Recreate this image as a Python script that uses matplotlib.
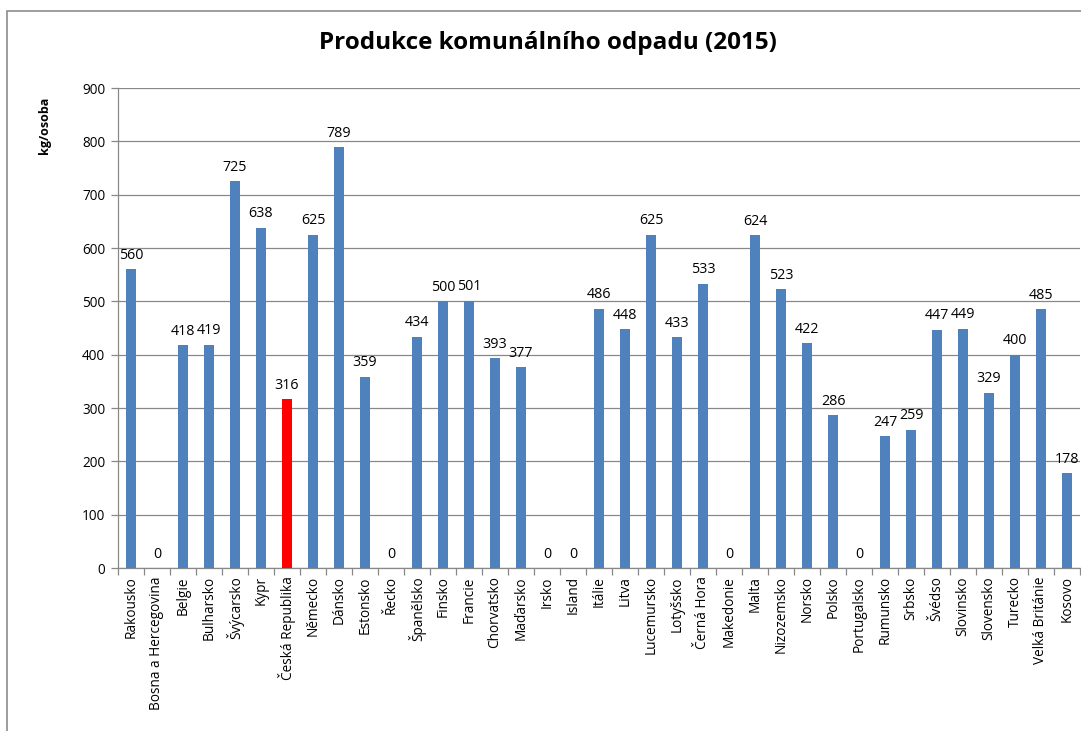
import matplotlib
matplotlib.use("Agg")
import matplotlib.pyplot as plt
from matplotlib.patches import Rectangle
from matplotlib.ticker import FixedLocator, NullFormatter

countries = [
    "Rakousko", "Bosna a Hercegovina", "Belgie", "Bulharsko", "Švýcarsko", "Kypr",
    "Česká Republika", "Německo", "Dánsko", "Estonsko", "Řecko", "Španělsko",
    "Finsko", "Francie", "Chorvatsko", "Maďarsko", "Irsko", "Island", "Itálie",
    "Litva", "Lucemursko", "Lotyšsko", "Černá Hora", "Makedonie", "Malta",
    "Nizozemsko", "Norsko", "Polsko", "Portugalsko", "Rumunsko", "Srbsko",
    "Švédso", "Slovinsko", "Slovensko", "Turecko", "Velká Británie", "Kosovo",
]
waste_kg = [
    560, 0, 418, 419, 725, 638, 316, 625, 789, 359, 0, 434, 500, 501, 393, 377,
    0, 0, 486, 448, 625, 433, 533, 0, 624, 523, 422, 286, 0, 247, 259, 447, 449,
    329, 400, 485, 178,
]
highlight = "Česká Republika"
y_ticks = [0, 100, 200, 300, 400, 500, 600, 700, 800, 900]

plt.rcParams["font.family"] = ["Open Sans", "DejaVu Sans"]

W, H = 1081, 731
fig = plt.figure(figsize=(W / 100, H / 100), dpi=100)

# chart-area frame
fig.patches.append(Rectangle((7 / W, -0.01), 1.1, 1 - 11 / H + 0.01,
                             transform=fig.transFigure, fill=False,
                             edgecolor="#8c8c8c", linewidth=1.2))

ax = fig.add_axes([118 / W, 1 - 568 / H, 962 / W, 480 / H])

x = list(range(len(countries)))
colors = ["#FF0000" if c == highlight else "#4F81BD" for c in countries]
ax.bar(x, waste_kg, width=0.4, color=colors, zorder=3)

for xi, v in zip(x, waste_kg):
    ax.text(xi, v + 12, str(v), ha="center", va="bottom", fontsize=10.3,
            color="#000000", zorder=4)

ax.set_xlim(-0.5, len(countries) - 0.5)
ax.set_ylim(0, 900)
ax.yaxis.set_major_locator(FixedLocator(y_ticks))
ax.grid(axis="y", color="#888888", linewidth=0.9, zorder=0)

ax.set_xticks(x)
ax.set_xticklabels(countries, rotation=90, fontsize=9.8)
ax.tick_params(axis="x", length=0, pad=6)
ax.xaxis.set_minor_locator(FixedLocator([i - 0.5 for i in range(len(countries) + 1)]))
ax.xaxis.set_minor_formatter(NullFormatter())
ax.tick_params(axis="x", which="minor", length=5, color="#888888", width=0.9)
ax.tick_params(axis="y", length=5, color="#888888", width=0.9, labelsize=9.8, pad=4)

for s in ["top", "right"]:
    ax.spines[s].set_visible(False)
for s in ["left", "bottom"]:
    ax.spines[s].set_color("#888888")
    ax.spines[s].set_linewidth(0.9)

fig.text(548 / W, 1 - 43 / H, "Produkce komunálního odpadu (2015)",
         ha="center", va="center", fontsize=17.5, fontweight="bold")
fig.text(45 / W, 1 - 125 / H, "kg/osoba", rotation=90, ha="center",
         va="center", fontsize=9, fontweight="bold")

fig.savefig("out.png", dpi=100)
